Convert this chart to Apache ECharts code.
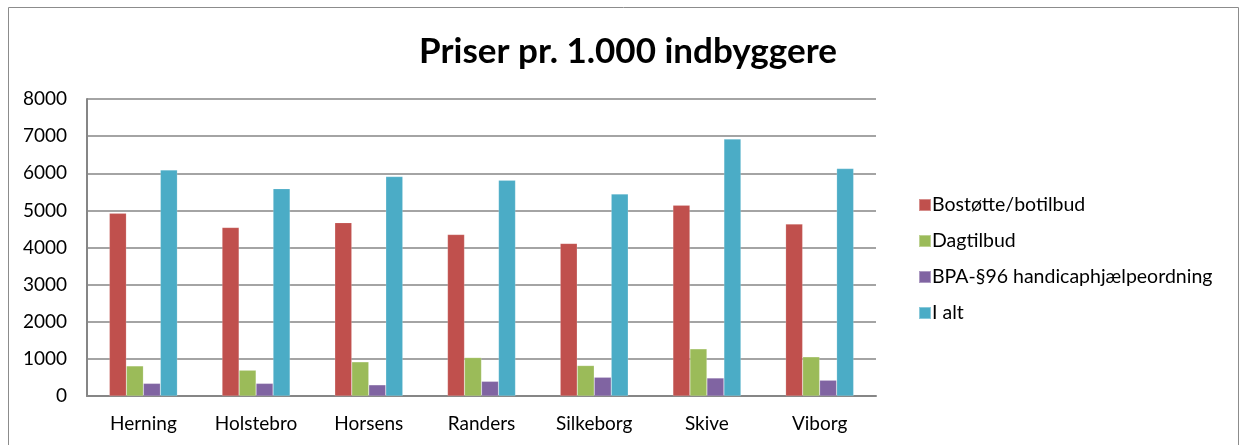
<!DOCTYPE html>
<html>
<head>
<meta charset="utf-8">
<script src="https://cdn.jsdelivr.net/npm/echarts@6/dist/echarts.min.js"></script>
<style>html,body{margin:0;padding:0;background:#fff}#c{width:1240px;height:445px}</style>
</head>
<body>
<div id="c"></div>
<script>
var categories = ['Herning', 'Holstebro', 'Horsens', 'Randers', 'Silkeborg', 'Skive', 'Viborg'];
var seriesNames = ['Bostøtte/botilbud', 'Dagtilbud', 'BPA-§96 handicaphjælpeordning', 'I alt'];
var bostotte = [4920, 4540, 4670, 4350, 4110, 5140, 4630];
var dagtilbud = [810, 695, 920, 1035, 820, 1270, 1055];
var bpa = [340, 340, 300, 395, 505, 485, 425];
var iAlt = [6090, 5585, 5910, 5810, 5440, 6920, 6125];
var yTicks = [0, 1000, 2000, 3000, 4000, 5000, 6000, 7000, 8000];
var colors = ['#C0504D', '#9BBB59', '#8064A2', '#4BACC6'];

var font = 'Lato, "Liberation Sans", sans-serif';
var chart = echarts.init(document.getElementById('c'), null, {renderer: 'canvas'});
var values = [bostotte, dagtilbud, bpa, iAlt];
chart.setOption({
  animation: false,
  color: colors,
  title: {
    text: 'Priser pr. 1.000 indbyggere',
    left: 623, top: 29, textAlign: 'center',
    textStyle: {fontFamily: font, fontWeight: 'bold', fontSize: 35, color: '#000'}
  },
  graphic: [{
    type: 'rect', shape: {x: 8.5, y: 7.5, width: 1230, height: 450},
    style: {fill: 'none', stroke: '#8c8c8c', lineWidth: 1}, silent: true
  }],
  legend: {
    orient: 'vertical', left: 913, top: 190,
    itemWidth: 12, itemHeight: 12, itemGap: 16,
    icon: 'rect',
    textStyle: {fontFamily: font, fontSize: 19.5, lineHeight: 20, color: '#000', padding: [0, 0, 0, -4]},
    data: seriesNames
  },
  grid: {left: 87, right: 364, top: 99, bottom: 49, containLabel: false},
  xAxis: {
    type: 'category', data: categories,
    axisLine: {lineStyle: {color: '#868686', width: 2}},
    axisTick: {show: false},
    axisLabel: {fontFamily: font, fontSize: 19, color: '#000', margin: 18}
  },
  yAxis: {
    type: 'value', min: yTicks[0], max: yTicks[yTicks.length - 1], interval: 1000,
    axisLine: {show: true, lineStyle: {color: '#868686', width: 2}},
    axisTick: {show: false},
    splitLine: {lineStyle: {color: '#868686', width: 1.5}},
    axisLabel: {fontFamily: font, fontSize: 19, color: '#000', margin: 20, formatter: function (v) { return String(v); }}
  },
  series: seriesNames.map(function (n, i) {
    return {
      name: n, type: 'bar', data: values[i], barWidth: 17, barGap: '0%',
      itemStyle: {color: colors[i], borderColor: 'rgba(255,255,255,0.35)', borderWidth: 0.5}
    };
  })
});
</script>
</body>
</html>
